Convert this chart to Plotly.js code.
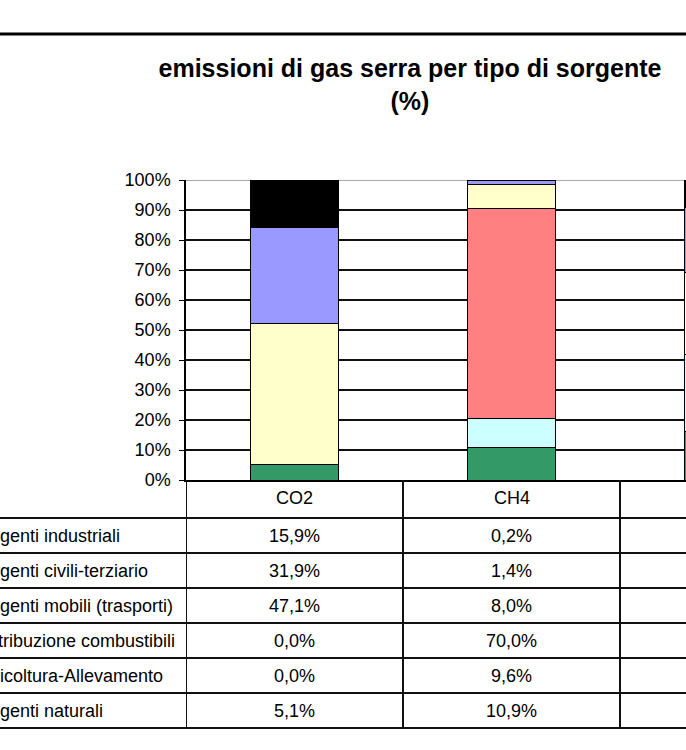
<!DOCTYPE html>
<html>
<head>
<meta charset="utf-8">
<script src="https://cdn.plot.ly/plotly-3.0.1.min.js"></script>
<style>
  html, body { margin: 0; padding: 0; overflow: hidden; background: #fff; }
  #wrap { position: relative; width: 686px; height: 750px; overflow: hidden; }
  #chart { position: absolute; left: -100px; top: 0; width: 960px; height: 750px; }
</style>
</head>
<body>
<div id="wrap"><div id="chart"></div></div>
<script>
// gas categories (N2O column is cut off at the right edge of the picture)
const gases = ["CO2", "CH4", "N2O"];

// sources, top row of the table first
const sources = [
  "Sorgenti industriali",
  "Sorgenti civili-terziario",
  "Sorgenti mobili (trasporti)",
  "Distribuzione combustibili",
  "Agricoltura-Allevamento",
  "Sorgenti naturali"
];

// % share of each source, per gas
const industriali   = [15.9, 0.2, 9.0];
const civili        = [31.9, 1.4, 21.7];
const mobili        = [47.1, 8.0, 27.6];
const distribuzione = [0.0, 70.0, 0.0];
const agricoltura   = [0.0, 9.6, 25.4];
const naturali      = [5.1, 10.9, 16.3];

const seriesValues = [industriali, civili, mobili, distribuzione, agricoltura, naturali];
const seriesColors = ["#000000", "#9999FF", "#FFFFCC", "#FF8080", "#CCFFFF", "#339966"];

const yTicks = [0, 10, 20, 30, 40, 50, 60, 70, 80, 90, 100];

const FONT = "Liberation Sans, Arial, sans-serif";

// page pixel -> paper coords (plot area: page x 186..837, page y 180..480)
const PLOT_L = 286, PLOT_W = 651, PLOT_T = 180, PLOT_H = 300, OFFSET = 100;
const px = x => (x + OFFSET - PLOT_L) / PLOT_W;
const py = y => (PLOT_T + PLOT_H - y) / PLOT_H;

const fmt = v => v.toFixed(1).replace(".", ",") + "%";

// stacked bars, bottom series first
const traces = [];
for(let i = sources.length - 1; i >= 0; i--){
  traces.push({
    type: "bar",
    x: gases,
    y: seriesValues[i],
    name: sources[i],
    width: 0.41,
    marker: {color: seriesColors[i], line: {color: "#000", width: 1}},
    hoverinfo: "x+y+name"
  });
}

// data table under the plot
const ROW_TOP = 518, ROW_H = 35;
const shapes = [];
const annotations = [];

// top border of the chart area
shapes.push({type: "line", xref: "paper", yref: "paper",
  x0: px(-100), x1: px(860), y0: py(34), y1: py(34),
  line: {color: "#000", width: 3}});

// 100% line is grey
shapes.push({type: "line", xref: "paper", yref: "y", layer: "between",
  x0: 0, x1: 1, y0: 100, y1: 100, line: {color: "#8c8c8c", width: 1.5}});

// horizontal table rules
for(let r = 0; r <= sources.length; r++){
  const y = py(ROW_TOP + r * ROW_H);
  shapes.push({type: "line", xref: "paper", yref: "paper",
    x0: px(-100), x1: px(860), y0: y, y1: y,
    line: {color: "#111", width: 2}});
}
// vertical table rules at category boundaries
for(let c = 0; c <= gases.length; c++){
  shapes.push({type: "line", xref: "x", yref: "paper",
    x0: c - 0.5, x1: c - 0.5, y0: 0, y1: py(ROW_TOP + sources.length * ROW_H),
    line: {color: "#111", width: 2}});
}

// header cells
gases.forEach(g => {
  annotations.push({xref: "x", yref: "paper", x: g, y: py(498),
    text: g, showarrow: false, xanchor: "center", yanchor: "middle",
    font: {family: FONT, size: 18, color: "#000"}});
});

// rows
sources.forEach((s, r) => {
  const yc = py(ROW_TOP + r * ROW_H + ROW_H / 2);
  annotations.push({xref: "paper", yref: "paper", x: px(-30), y: yc,
    text: s, showarrow: false, xanchor: "left", yanchor: "middle",
    font: {family: FONT, size: 18, color: "#000"}});
  gases.forEach((g, c) => {
    annotations.push({xref: "x", yref: "paper", x: g, y: yc,
      text: fmt(seriesValues[r][c]), showarrow: false, xanchor: "center", yanchor: "middle",
      font: {family: FONT, size: 18, color: "#000"}});
  });
});

const layout = {
  width: 960,
  height: 750,
  margin: {l: PLOT_L, r: 960 - PLOT_L - PLOT_W, t: PLOT_T, b: 750 - PLOT_T - PLOT_H},
  paper_bgcolor: "#fff",
  plot_bgcolor: "#fff",
  barmode: "stack",
  bargap: 0.59,
  showlegend: false,
  font: {family: FONT, size: 18, color: "#000"},
  title: {
    text: "<b>emissioni di gas serra per tipo di sorgente</b><br><b>(%)</b>",
    font: {family: FONT, size: 25, color: "#000"},
    xref: "paper", x: px(410), xanchor: "center",
    yref: "container", y: 1 - 77 / 750, yanchor: "middle"
  },
  xaxis: {
    type: "category",
    range: [-0.5, 2.5],
    showticklabels: false,
    showgrid: false,
    zeroline: false,
    showline: true,
    linecolor: "#000",
    linewidth: 2,
    ticks: ""
  },
  yaxis: {
    range: [0, 100],
    tickvals: yTicks,
    ticktext: yTicks.map(v => v + "%"),
    ticks: "outside",
    ticklen: 5,
    tickwidth: 1,
    tickcolor: "#000",
    ticklabelstandoff: 5,
    showline: true,
    linecolor: "#000",
    linewidth: 1.5,
    gridcolor: "#111",
    gridwidth: 1.5,
    zeroline: false,
    tickfont: {family: FONT, size: 18, color: "#000"}
  },
  shapes: shapes,
  annotations: annotations
};

Plotly.newPlot("chart", traces, layout, {displayModeBar: false, responsive: false});
</script>
</body>
</html>
